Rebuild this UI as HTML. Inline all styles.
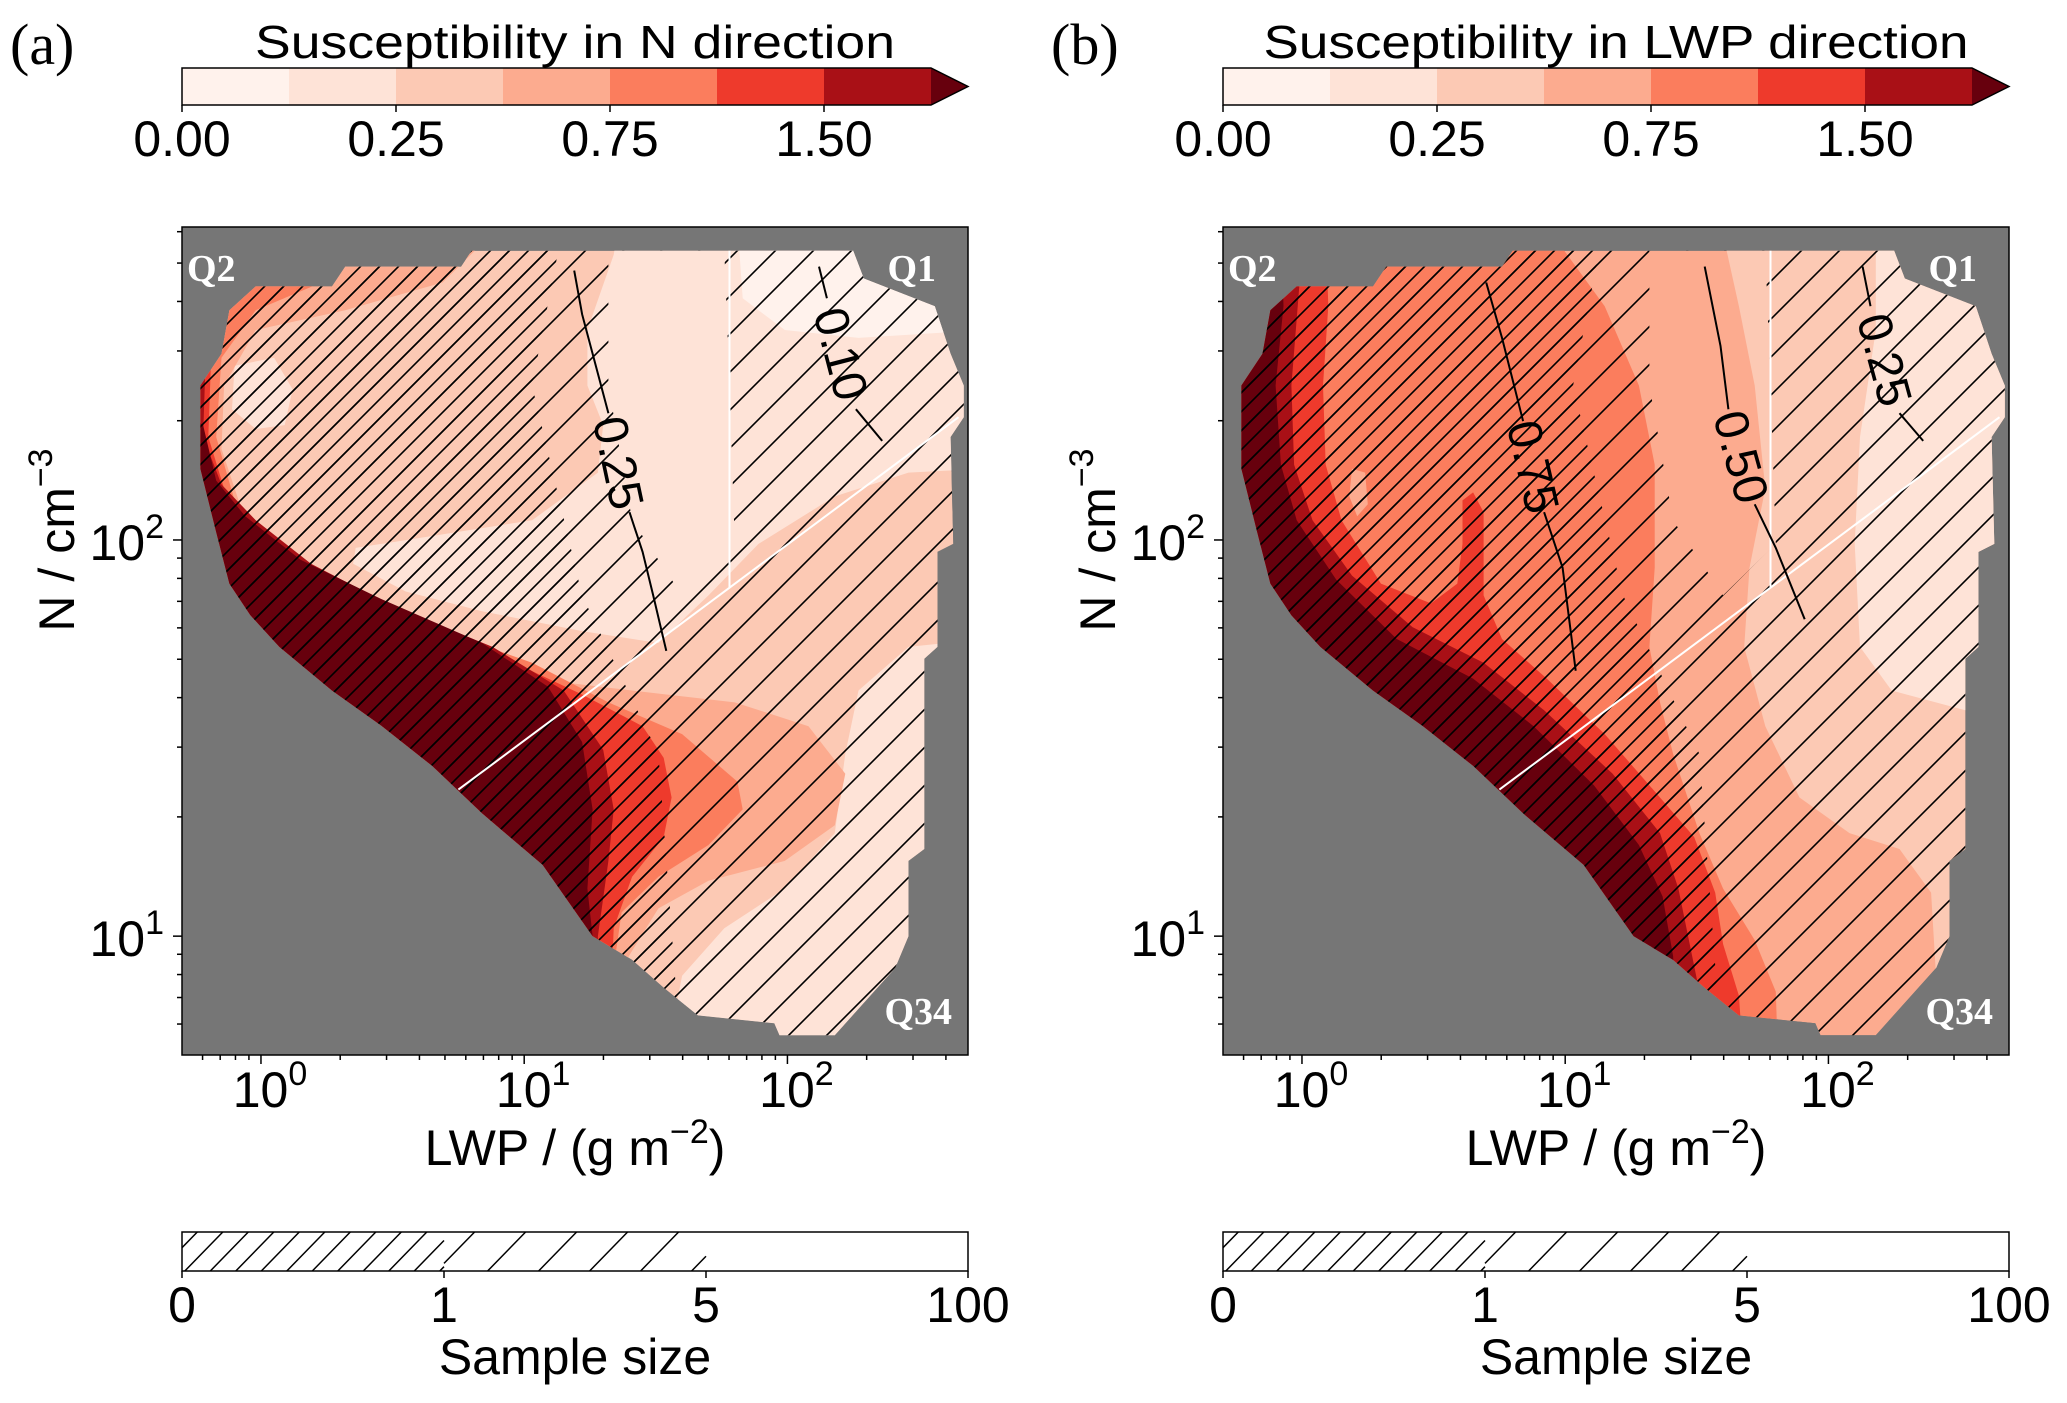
<!DOCTYPE html>
<html><head><meta charset="utf-8"><title>Susceptibility</title>
<style>
html,body{margin:0;padding:0;background:#fff;}
svg{display:block;}
text{font-family:"Liberation Sans","DejaVu Sans",sans-serif;fill:#000;}
.serif{font-family:"Liberation Serif",serif;}
</style></head>
<body>
<svg id="fig" xmlns="http://www.w3.org/2000/svg" width="2067" height="1403" viewBox="0 0 2067 1403">
<defs>
<pattern id="hatchDense" patternUnits="userSpaceOnUse" width="19" height="19"><path d="M-2,2 L2,-2 M0,19 L19,0 M17,21 L21,17" stroke="#000" stroke-width="1.6"/></pattern>
<pattern id="hatchSparse" patternUnits="userSpaceOnUse" width="38" height="38"><path d="M-2,2 L2,-2 M0,38 L38,0 M36,40 L40,36" stroke="#000" stroke-width="1.6"/></pattern>
</defs>
<g id="root"></g>
</svg>
<script>
// ---------- data ----------
const levelColors = ['#fff2ec','#fee3d7','#fcc9b4','#fcab8f','#fb7d5d','#ee3a2c','#a91016','#67000d'];
const colorbarLevels = [0, 0.1, 0.25, 0.5, 0.75, 1.0, 1.5, 2.0];
const colorbarTickIndex = [0, 2, 4, 6];
const colorbarTickLabels = ['0.00', '0.25', '0.75', '1.50'];
const sampleBounds = [0, 1, 5, 100];
const sampleTickLabels = ['0', '1', '5', '100'];
const xMajorTicks = [0, 1, 2];
const yMajorTicks = [1, 2];
const lwpLogRange = [-0.30, 2.686];
const nLogRange = [0.70, 2.79];

// data domain outline [log10 LWP, log10 N]
const domainOutline = [[0.80,2.73],[2.25,2.73],[2.29,2.66],[2.56,2.59],[2.62,2.47],[2.67,2.39],[2.67,2.31],[2.62,2.26],[2.63,1.99],[2.57,1.97],[2.57,1.73],[2.52,1.70],[2.52,1.22],[2.46,1.19],[2.46,1.00],[2.41,0.92],[2.18,0.75],[1.97,0.75],[1.95,0.78],[1.66,0.80],[1.53,0.87],[1.41,0.94],[1.26,1.00],[1.07,1.18],[0.84,1.31],[0.65,1.43],[0.46,1.53],[0.27,1.62],[0.07,1.73],[-0.04,1.81],[-0.12,1.89],[-0.17,2.02],[-0.23,2.18],[-0.23,2.39],[-0.15,2.47],[-0.12,2.58],[-0.02,2.64],[0.27,2.64],[0.32,2.69],[0.76,2.69]];
const noHatchRegion = [[1.32,2.73],[1.76,2.73],[1.78,2.39],[1.80,1.99],[1.60,1.86],[1.41,2.05],[1.32,2.39]];
const denseHatchRegion = [[1.15,2.80],[1.03,2.39],[1.22,1.86],[1.51,1.46],[1.60,0.66],[-0.31,0.66],[-0.31,2.80]];
const quadrantVertical = [[1.78,2.73],[1.78,1.88]];
const quadrantDiagonal = [[0.75,1.37],[2.65,2.31]];

// Panel (a): susceptibility in N direction
const nDirBaseLevel = 2;
const nDirL1Main = [[1.36,2.80],[1.34,2.72],[1.24,2.53],[1.24,2.39],[1.30,2.29],[1.28,2.17],[1.03,2.05],[0.65,2.01],[0.36,1.98],[0.35,1.94],[0.55,1.87],[0.84,1.82],[1.22,1.77],[1.51,1.74],[1.70,1.86],[1.89,1.99],[2.18,2.11],[2.46,2.17],[2.75,2.18],[2.75,2.80]];
const nDirL1Blob = [[-0.10,2.44],[0.05,2.46],[0.12,2.38],[0.09,2.29],[-0.02,2.28],[-0.11,2.33]];
const nDirL1Low = [[2.75,1.75],[2.46,1.73],[2.27,1.62],[2.22,1.46],[2.18,1.26],[1.99,1.12],[1.76,1.02],[1.60,0.90],[1.53,0.66],[2.75,0.66]];
const nDirL0 = [[1.81,2.80],[1.83,2.61],[1.99,2.53],[2.27,2.51],[2.75,2.53],[2.75,2.80]];
const nDirL3 = [[0.92,2.80],[0.69,2.65],[0.32,2.58],[-0.02,2.53],[-0.14,2.39],[-0.15,2.23],[-0.08,2.09],[0.07,1.97],[0.32,1.86],[0.65,1.75],[1.03,1.65],[1.41,1.62],[1.80,1.59],[2.08,1.53],[2.22,1.41],[2.18,1.28],[1.99,1.19],[1.70,1.14],[1.51,1.07],[1.37,0.92],[1.34,0.66],[-0.31,0.66],[-0.31,2.80]];
const nDirL4 = [[0.36,2.80],[0.23,2.65],[-0.02,2.58],[-0.15,2.46],[-0.17,2.26],[-0.10,2.10],[0.07,1.99],[0.30,1.89],[0.65,1.78],[1.03,1.69],[1.32,1.59],[1.60,1.51],[1.81,1.39],[1.83,1.32],[1.70,1.23],[1.51,1.15],[1.37,1.06],[1.34,0.92],[1.30,0.66],[-0.31,0.66],[-0.31,2.80]];
const nDirL5 = [[-0.02,2.80],[-0.06,2.65],[-0.14,2.57],[-0.19,2.45],[-0.20,2.26],[-0.14,2.13],[0.00,2.02],[0.23,1.91],[0.55,1.81],[0.93,1.70],[1.22,1.61],[1.45,1.53],[1.53,1.45],[1.56,1.35],[1.53,1.25],[1.41,1.15],[1.34,1.02],[1.32,0.66],[-0.31,0.66],[-0.31,2.80]];
const nDirL6 = [[-0.21,2.80],[-0.21,2.46],[-0.22,2.26],[-0.15,2.14],[-0.02,2.05],[0.19,1.94],[0.51,1.83],[0.88,1.73],[1.15,1.62],[1.30,1.47],[1.34,1.32],[1.32,1.19],[1.28,1.00],[1.28,0.66],[-0.31,0.66],[-0.31,2.80]];
const nDirL7 = [[-0.31,2.33],[-0.22,2.29],[-0.17,2.15],[-0.06,2.06],[0.15,1.95],[0.46,1.85],[0.84,1.74],[1.09,1.63],[1.22,1.49],[1.26,1.32],[1.24,1.12],[1.26,1.00],[1.26,0.66],[-0.31,0.66]];
const nDirContourValues = [0.25, 0.10];
const nDirContour025A = [[1.19,2.68],[1.22,2.57],[1.28,2.42],[1.32,2.32]];
const nDirContour025B = [[1.40,2.07],[1.45,1.97],[1.49,1.86],[1.54,1.72]];
const nDirContour010A = [[2.12,2.69],[2.15,2.61]];
const nDirContour010B = [[2.26,2.33],[2.36,2.25]];

// Panel (b): susceptibility in LWP direction
const lwpDirBaseLevel = 3;
const lwpDirL2 = [[1.59,2.80],[1.66,2.59],[1.72,2.39],[1.76,2.13],[1.70,1.93],[1.68,1.73],[1.76,1.53],[1.89,1.35],[2.08,1.26],[2.27,1.22],[2.39,1.11],[2.43,0.66],[2.75,0.66],[2.75,2.80]];
const lwpDirL1 = [[2.18,2.80],[2.18,2.53],[2.12,2.26],[2.10,1.99],[2.12,1.73],[2.24,1.62],[2.52,1.57],[2.75,1.55],[2.75,2.80]];
const lwpDirL4 = [[0.92,2.80],[1.15,2.59],[1.28,2.39],[1.34,2.19],[1.34,1.93],[1.32,1.73],[1.36,1.59],[1.41,1.46],[1.51,1.26],[1.60,1.12],[1.72,0.99],[1.80,0.86],[1.81,0.66],[-0.31,0.66],[-0.31,2.80]];
const lwpDirL3Blob = [[0.19,2.18],[0.24,2.17],[0.25,2.09],[0.21,2.06],[0.18,2.11]];
const lwpDirL5 = [[0.09,2.80],[0.10,2.59],[0.08,2.39],[0.09,2.19],[0.15,2.05],[0.30,1.89],[0.49,1.84],[0.59,1.89],[0.61,1.99],[0.61,2.10],[0.65,2.12],[0.69,2.07],[0.69,1.86],[0.76,1.75],[0.93,1.65],[1.15,1.51],[1.36,1.35],[1.49,1.25],[1.57,1.11],[1.60,0.98],[1.66,0.85],[1.68,0.66],[-0.31,0.66],[-0.31,2.80]];
const lwpDirL6 = [[-0.02,2.80],[-0.01,2.64],[-0.04,2.39],[-0.03,2.19],[0.04,2.05],[0.19,1.91],[0.42,1.78],[0.69,1.69],[0.92,1.57],[1.18,1.41],[1.36,1.26],[1.43,1.12],[1.47,0.99],[1.51,0.86],[1.53,0.66],[-0.31,0.66],[-0.31,2.80]];
const lwpDirL7 = [[-0.08,2.80],[-0.07,2.59],[-0.10,2.39],[-0.08,2.19],[-0.02,2.05],[0.13,1.90],[0.36,1.75],[0.65,1.65],[0.88,1.53],[1.11,1.38],[1.28,1.23],[1.37,1.10],[1.41,0.95],[1.43,0.66],[-0.31,0.66],[-0.31,2.80]];
const lwpDirContourValues = [0.75, 0.50, 0.25];
const lwpDirContour075A = [[0.70,2.65],[0.76,2.51],[0.84,2.30]];
const lwpDirContour075B = [[0.92,2.07],[0.99,1.93],[1.04,1.67]];
const lwpDirContour050A = [[1.53,2.69],[1.59,2.49],[1.62,2.33]];
const lwpDirContour050B = [[1.72,2.09],[1.80,1.98],[1.91,1.80]];
const lwpDirContour025A = [[2.13,2.69],[2.16,2.59]];
const lwpDirContour025B = [[2.27,2.32],[2.36,2.25]];

// ---------- drawing ----------
const NS = 'http://www.w3.org/2000/svg';
const root = document.getElementById('root');
const PLOT_W = 786, PLOT_TOP = 227, PLOT_BOT = 1055;
const FS = 50, FSUP = 34;
function mk(tag, parent){ const e = document.createElementNS(NS, tag); parent.appendChild(e); return e; }
function axes(ox){
  const sx = v => ox + (v - lwpLogRange[0]) / (lwpLogRange[1] - lwpLogRange[0]) * PLOT_W;
  const sy = v => PLOT_BOT - (v - nLogRange[0]) / (nLogRange[1] - nLogRange[0]) * (PLOT_BOT - PLOT_TOP);
  return {sx, sy};
}
function pts(arr, ax){ return arr.map(p => ax.sx(p[0]).toFixed(1) + ',' + ax.sy(p[1]).toFixed(1)).join(' '); }

function drawPanel(key, ox, baseLevel, layers, contours, title, titleLen, letter){
  const ax = axes(ox);
  const g = mk('g', root);
  
  

  const lt = mk('text', g);
  
  
  lt.setAttribute('class', 'serif'); lt.setAttribute('x', ox - 172); lt.setAttribute('y', 64); lt.setAttribute('font-size', '58');
  lt.textContent = letter;

  // colorbar
  const cb = mk('g', g);
  
  
  const cbW = 749, cbY = 68, cbH = 37, nSeg = colorbarLevels.length - 1;
  const cx = i => ox + i / nSeg * cbW;
  for (let i = 0; i < nSeg; i++){
    const r = mk('rect', cb);
    
    
    r.setAttribute('x', cx(i)); r.setAttribute('y', cbY); r.setAttribute('width', cbW / nSeg + 0.5); r.setAttribute('height', cbH);
    r.setAttribute('fill', levelColors[i]);
  }
  const arr = mk('polygon', cb);
  
  
  arr.setAttribute('points', `${ox+cbW},${cbY} ${ox+786},${cbY+cbH/2} ${ox+cbW},${cbY+cbH}`);
  arr.setAttribute('fill', levelColors[7]);
  const ol = mk('polygon', cb);
  
  
  ol.setAttribute('points', `${ox},${cbY} ${ox+cbW},${cbY} ${ox+786},${cbY+cbH/2} ${ox+cbW},${cbY+cbH} ${ox},${cbY+cbH}`);
  ol.setAttribute('fill', 'none'); ol.setAttribute('stroke', '#000'); ol.setAttribute('stroke-width', '1.5');
  colorbarTickIndex.forEach((ti, k) => {
    const t = mk('line', cb);
    
    
    t.setAttribute('x1', cx(ti)); t.setAttribute('x2', cx(ti)); t.setAttribute('y1', cbY + cbH); t.setAttribute('y2', cbY + cbH + 7);
    t.setAttribute('stroke', '#000'); t.setAttribute('stroke-width', '1.5');
    const tl = mk('text', cb);
    
    
    tl.setAttribute('x', cx(ti)); tl.setAttribute('y', 156); tl.setAttribute('text-anchor', 'middle'); tl.setAttribute('font-size', FS);
    tl.textContent = colorbarTickLabels[k];
  });
  const ct = mk('text', cb);
  
  
  ct.setAttribute('x', ox + 393); ct.setAttribute('y', 58); ct.setAttribute('text-anchor', 'middle'); ct.setAttribute('font-size', '46');
  ct.setAttribute('textLength', titleLen); ct.setAttribute('lengthAdjust', 'spacingAndGlyphs');
  ct.textContent = title;

  const bg = mk('rect', g);
  
  
  bg.setAttribute('x', ox); bg.setAttribute('y', PLOT_TOP); bg.setAttribute('width', PLOT_W); bg.setAttribute('height', PLOT_BOT - PLOT_TOP);
  bg.setAttribute('fill', '#767676');

  const defs = mk('defs', g);
  const cp = mk('clipPath', defs); cp.setAttribute('id', 'dom-' + key);
  const cpp = mk('polygon', cp); cpp.setAttribute('points', pts(domainOutline, ax));
  const cp2 = mk('clipPath', defs); cp2.setAttribute('id', 'dense-' + key);
  const cpp2 = mk('polygon', cp2); cpp2.setAttribute('points', pts(denseHatchRegion, ax));
  const mask = mk('mask', defs); mask.setAttribute('id', 'mask-' + key); mask.setAttribute('maskUnits', 'userSpaceOnUse');
  mask.setAttribute('x', 0); mask.setAttribute('y', 0); mask.setAttribute('width', 2067); mask.setAttribute('height', 1403);
  const mr = mk('rect', mask); mr.setAttribute('x', 0); mr.setAttribute('y', 0); mr.setAttribute('width', 2067); mr.setAttribute('height', 1403); mr.setAttribute('fill', '#fff');
  const mp = mk('polygon', mask); mp.setAttribute('points', pts(noHatchRegion, ax)); mp.setAttribute('fill', '#000');

  const cg = mk('g', g);
  
  
  cg.setAttribute('clip-path', `url(#dom-${key})`);
  const base = mk('polygon', cg);
  
  
  base.setAttribute('points', pts(domainOutline, ax)); base.setAttribute('fill', levelColors[baseLevel]);
  layers.forEach(([lev, poly]) => {
    const p = mk('polygon', cg);
    
    
    p.setAttribute('points', pts(poly, ax)); p.setAttribute('fill', levelColors[lev]);
  });

  const hg = mk('g', cg);
  
  
  hg.setAttribute('mask', `url(#mask-${key})`);
  const hs = mk('rect', hg);
  hs.setAttribute('x', ox); hs.setAttribute('y', PLOT_TOP); hs.setAttribute('width', PLOT_W); hs.setAttribute('height', PLOT_BOT - PLOT_TOP);
  hs.setAttribute('fill', 'url(#hatchSparse)');
  const hdg = mk('g', hg); hdg.setAttribute('clip-path', `url(#dense-${key})`);
  const hd = mk('rect', hdg);
  hd.setAttribute('x', ox); hd.setAttribute('y', PLOT_TOP); hd.setAttribute('width', PLOT_W); hd.setAttribute('height', PLOT_BOT - PLOT_TOP);
  hd.setAttribute('fill', 'url(#hatchDense)');

  [quadrantVertical, quadrantDiagonal].forEach((ln, i) => {
    const l = mk('polyline', g);
    
    
    l.setAttribute('points', pts(ln, ax)); l.setAttribute('fill', 'none'); l.setAttribute('stroke', '#fff'); l.setAttribute('stroke-width', '2');
  });

  contours.forEach(([val, a, b]) => {
    [a, b].forEach(seg => {
      const l = mk('polyline', g);
      
      
      l.setAttribute('points', pts(seg, ax)); l.setAttribute('fill', 'none'); l.setAttribute('stroke', '#000'); l.setAttribute('stroke-width', '2');
    });
    const pa = a[a.length - 1], pb = b[0];
    const x1 = ax.sx(pa[0]), y1 = ax.sy(pa[1]), x2 = ax.sx(pb[0]), y2 = ax.sy(pb[1]);
    const ang = Math.atan2(y2 - y1, x2 - x1) * 180 / Math.PI;
    const mx = (x1 + x2) / 2, my = (y1 + y2) / 2;
    const t = mk('text', g);
    
    
    t.setAttribute('x', mx); t.setAttribute('y', my + 17); t.setAttribute('text-anchor', 'middle'); t.setAttribute('font-size', '48');
    t.setAttribute('transform', `rotate(${ang.toFixed(1)} ${mx} ${my})`);
    t.textContent = val.toFixed(2);
  });

  [['Q2', ox + 5, 281, 'start'], ['Q1', ox + 754, 281, 'end'], ['Q34', ox + 770, 1024, 'end']].forEach(q => {
    const t = mk('text', g);
    
    
    t.setAttribute('class', 'serif'); t.setAttribute('x', q[1]); t.setAttribute('y', q[2]); t.setAttribute('text-anchor', q[3]);
    t.setAttribute('font-size', '38'); t.setAttribute('font-weight', 'bold'); t.setAttribute('style', 'fill:#fff');
    t.textContent = q[0];
  });

  const fr = mk('rect', g);
  
  
  fr.setAttribute('x', ox); fr.setAttribute('y', PLOT_TOP); fr.setAttribute('width', PLOT_W); fr.setAttribute('height', PLOT_BOT - PLOT_TOP);
  fr.setAttribute('fill', 'none'); fr.setAttribute('stroke', '#000'); fr.setAttribute('stroke-width', '1.5');

  for (let d = -1; d <= 2; d++){
    for (let m = 1; m <= 9; m++){
      const lv = d + Math.log10(m);
      if (lv < lwpLogRange[0] - 1e-6 || lv > lwpLogRange[1]) continue;
      const t = mk('line', g);
      
      
      t.setAttribute('x1', ax.sx(lv)); t.setAttribute('x2', ax.sx(lv)); t.setAttribute('y1', PLOT_BOT); t.setAttribute('y2', PLOT_BOT + (m === 1 ? 9 : 5));
      t.setAttribute('stroke', '#000'); t.setAttribute('stroke-width', '1.5');
    }
  }
  xMajorTicks.forEach(k => {
    const t = mk('text', g);
    
    
    t.setAttribute('x', ax.sx(k) + 9); t.setAttribute('y', 1107); t.setAttribute('text-anchor', 'middle'); t.setAttribute('font-size', FS);
    t.innerHTML = `10<tspan dy="-22" font-size="${FSUP}">${k}</tspan>`;
  });
  for (let d = 0; d <= 2; d++){
    for (let m = 1; m <= 9; m++){
      const lv = d + Math.log10(m);
      if (lv < nLogRange[0] - 1e-6 || lv > nLogRange[1]) continue;
      const t = mk('line', g);
      
      
      t.setAttribute('x1', ox); t.setAttribute('x2', ox - (m === 1 ? 9 : 5)); t.setAttribute('y1', ax.sy(lv)); t.setAttribute('y2', ax.sy(lv));
      t.setAttribute('stroke', '#000'); t.setAttribute('stroke-width', '1.5');
    }
  }
  yMajorTicks.forEach(k => {
    const t = mk('text', g);
    
    
    t.setAttribute('x', ox - 18); t.setAttribute('y', ax.sy(k) + 20); t.setAttribute('text-anchor', 'end'); t.setAttribute('font-size', FS);
    t.innerHTML = `10<tspan dy="-22" font-size="${FSUP}">${k}</tspan>`;
  });
  const xl = mk('text', g);
  
  
  xl.setAttribute('x', ox + 393); xl.setAttribute('y', 1165); xl.setAttribute('text-anchor', 'middle'); xl.setAttribute('font-size', FS);
  xl.innerHTML = `LWP / (g m<tspan dy="-22" font-size="${FSUP}">−2</tspan><tspan dy="22">)</tspan>`;
  const yl = mk('text', g);
  
  
  yl.setAttribute('x', ox - 125); yl.setAttribute('y', 540); yl.setAttribute('text-anchor', 'middle'); yl.setAttribute('font-size', FS);
  yl.setAttribute('transform', `rotate(-90 ${ox - 125} 540) translate(0 17)`);
  yl.innerHTML = `N / cm<tspan dy="-22" font-size="${FSUP}">−3</tspan>`;

  // sample size bar
  const sb = mk('g', g);
  
  
  const sbY = 1232, sbH = 39, segW = PLOT_W / (sampleBounds.length - 1), run = 38;
  const spacing = [25.5, 51, 0];
  for (let i = 0; i < sampleBounds.length - 1; i++){
    const x0 = ox + i * segW;
    if (spacing[i] > 0){
      for (let x = x0 - run + spacing[i] * 0.6; x < x0 + segW; x += spacing[i]){
        const xa = Math.max(x, x0), xb = Math.min(x + run, x0 + segW);
        if (xb <= xa) continue;
        const l = mk('line', sb);
        
        
        const ya = sbY + sbH - (xa - x) * sbH / run, yb = sbY + sbH - (xb - x) * sbH / run;
        l.setAttribute('x1', xa); l.setAttribute('y1', ya); l.setAttribute('x2', xb); l.setAttribute('y2', yb);
        l.setAttribute('stroke', '#000'); l.setAttribute('stroke-width', '1.5');
      }
    }
  }
  const sbr = mk('rect', sb);
  
  
  sbr.setAttribute('x', ox); sbr.setAttribute('y', sbY); sbr.setAttribute('width', PLOT_W); sbr.setAttribute('height', sbH);
  sbr.setAttribute('fill', 'none'); sbr.setAttribute('stroke', '#000'); sbr.setAttribute('stroke-width', '1.5');
  sampleTickLabels.forEach((s, i) => {
    const x = ox + i * segW;
    const t = mk('line', sb);
    
    
    t.setAttribute('x1', x); t.setAttribute('x2', x); t.setAttribute('y1', sbY + sbH); t.setAttribute('y2', sbY + sbH + 7);
    t.setAttribute('stroke', '#000'); t.setAttribute('stroke-width', '1.5');
    const tl = mk('text', sb);
    
    
    tl.setAttribute('x', x); tl.setAttribute('y', 1322); tl.setAttribute('text-anchor', 'middle'); tl.setAttribute('font-size', FS);
    tl.textContent = s;
  });
  const st = mk('text', sb);
  
  
  st.setAttribute('x', ox + 393); st.setAttribute('y', 1374); st.setAttribute('text-anchor', 'middle'); st.setAttribute('font-size', FS);
  st.textContent = 'Sample size';
}

drawPanel('a', 182, nDirBaseLevel,
  [[1, nDirL1Main], [1, nDirL1Blob], [1, nDirL1Low], [0, nDirL0], [3, nDirL3], [4, nDirL4], [5, nDirL5], [6, nDirL6], [7, nDirL7]],
  [[nDirContourValues[0], nDirContour025A, nDirContour025B], [nDirContourValues[1], nDirContour010A, nDirContour010B]],
  'Susceptibility in N direction', 640, '(a)');
drawPanel('b', 1223, lwpDirBaseLevel,
  [[2, lwpDirL2], [1, lwpDirL1], [4, lwpDirL4], [3, lwpDirL3Blob], [5, lwpDirL5], [6, lwpDirL6], [7, lwpDirL7]],
  [[lwpDirContourValues[0], lwpDirContour075A, lwpDirContour075B], [lwpDirContourValues[1], lwpDirContour050A, lwpDirContour050B], [lwpDirContourValues[2], lwpDirContour025A, lwpDirContour025B]],
  'Susceptibility in LWP direction', 705, '(b)');
</script>
</body></html>
